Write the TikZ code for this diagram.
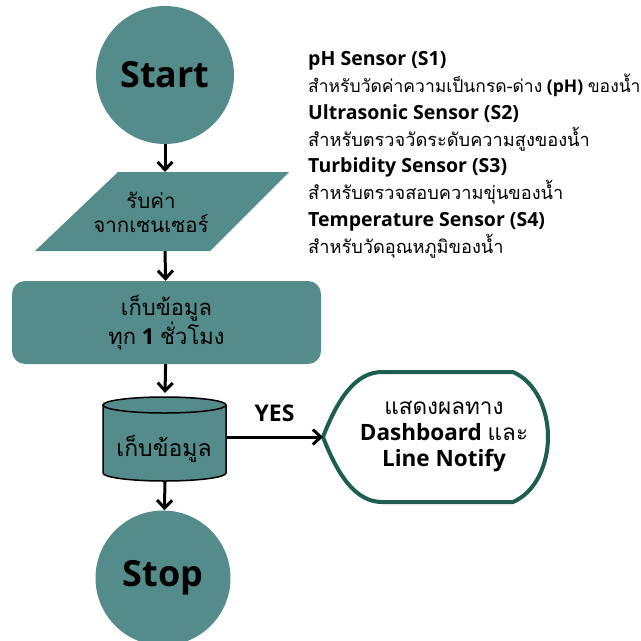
\documentclass[tikz,border=0pt]{standalone}
\usepackage{fontspec}
\setmainfont{Open Sans}
\newfontfamily\thai[Script=Thai]{Loma}
\usetikzlibrary{arrows.meta}
\definecolor{verdeacqua}{HTML}{548B8B}
\definecolor{verdescuro}{HTML}{1E5E50}

\begin{document}
\begin{tikzpicture}[x=1pt, y=-1pt, >={Straight Barb[length=8pt, width=15pt]}]
% Stili dei blocchi e delle frecce
\tikzset{blocco/.style={fill=verdeacqua, draw=none, align=center},
         terminale/.style={blocco, circle, inner sep=0pt, font=\fontsize{36}{40}\selectfont\bfseries},
         freccia/.style={->, line width=3pt},
         testo/.style={align=center, font=\fontsize{22}{25}\selectfont}}

\useasboundingbox (0,0) rectangle (641,641);

% --- INIZIO ---
\node[terminale, minimum size=138pt] (start) at (165,75) {Start};

% --- INPUT (PARALLELOGRAMMA) ---
\fill[verdeacqua] (35,251) -- (118,172) -- (289,172) -- (210,251) -- cycle;
\coordinate (inN) at (165,172);
\coordinate (inS) at (165,251);
\node[testo, font=\fontsize{20.5}{24}\selectfont] (input) at (151,212) {{\thai รับค่า}\\{\thai จากเซนเซอร์}};

% --- PROCESSO ---
\node[blocco, rounded corners=13pt, minimum width=309pt, minimum height=83pt,
      testo] (proc) at (166.5,322.5) {{\thai เก็บข้อมูล}\\{\thai ทุก} \textbf{1} {\thai ชั่วโมง}};

% --- DATABASE (CILINDRO) ---
\filldraw[fill=verdeacqua, line width=1.5pt] (103,405) -- (103,473)
    arc[start angle=180, end angle=0, x radius=61.5, y radius=8] -- (226,405);
\filldraw[fill=verdeacqua, line width=1.5pt] (164.5,405) ellipse [x radius=61.5, y radius=8];
\coordinate (dbN) at (165,393);
\coordinate (dbS) at (165,481);
\coordinate (dbE) at (226,437);
\node[testo, font=\fontsize{23}{25}\selectfont] (db) at (164,449) {\thai เก็บข้อมูล};

% --- VISUALIZZAZIONE ---
\draw[verdescuro, line width=4pt, fill=white] (323,437)
    .. controls (338,398) and (356,372) .. (382,372) -- (513,372)
    .. controls (536,382) and (548,410) .. (548,437)
    .. controls (548,464) and (536,492) .. (513,502) -- (382,502)
    .. controls (356,502) and (338,476) .. (323,437) -- cycle;
\coordinate (dispW) at (323,437);
\node[testo, font=\fontsize{22.5}{26}\selectfont] (disp) at (444,437) {{\thai แสดงผลทาง}\\\textbf{Dashboard} {\thai และ}\\\textbf{Line Notify}};

% --- FINE ---
\node[terminale, minimum size=135pt] (stop) at (163,578) {Stop};

% --- FRECCE ---
\draw[freccia] (start) -- (inN);
\draw[freccia] (inS) -- (proc);
\draw[freccia] (proc) -- (dbN);
\draw[freccia] (dbS) -- (stop);
\draw[freccia] (dbE) -- (dispW) node[midway, above=10pt, font=\fontsize{23}{25}\selectfont\bfseries] (yes) {YES};

% --- DESCRIZIONE DEI SENSORI ---
\node[anchor=north west, align=left, inner sep=0pt, font=\fontsize{18.2}{26.9}\selectfont] (sensori) at (308,51)
    {{\fontsize{19.5}{26.9}\selectfont\bfseries pH Sensor (S1)}\\
     {\fontsize{17.5}{26.9}\selectfont{\thai สำหรับวัดค่าความเป็นกรด-ด่าง} \textbf{(pH)} {\thai ของน้ำ}}\\
     {\fontsize{19.5}{26.9}\selectfont\bfseries Ultrasonic Sensor (S2)}\\
     {\thai สำหรับตรวจวัดระดับความสูงของน้ำ}\\
     {\fontsize{19.5}{26.9}\selectfont\bfseries Turbidity Sensor (S3)}\\
     {\thai สำหรับตรวจสอบความขุ่นของน้ำ}\\
     {\fontsize{19.5}{26.9}\selectfont\bfseries Temperature Sensor (S4)}\\
     {\thai สำหรับวัดอุณหภูมิของน้ำ}};
\end{tikzpicture}
\end{document}
